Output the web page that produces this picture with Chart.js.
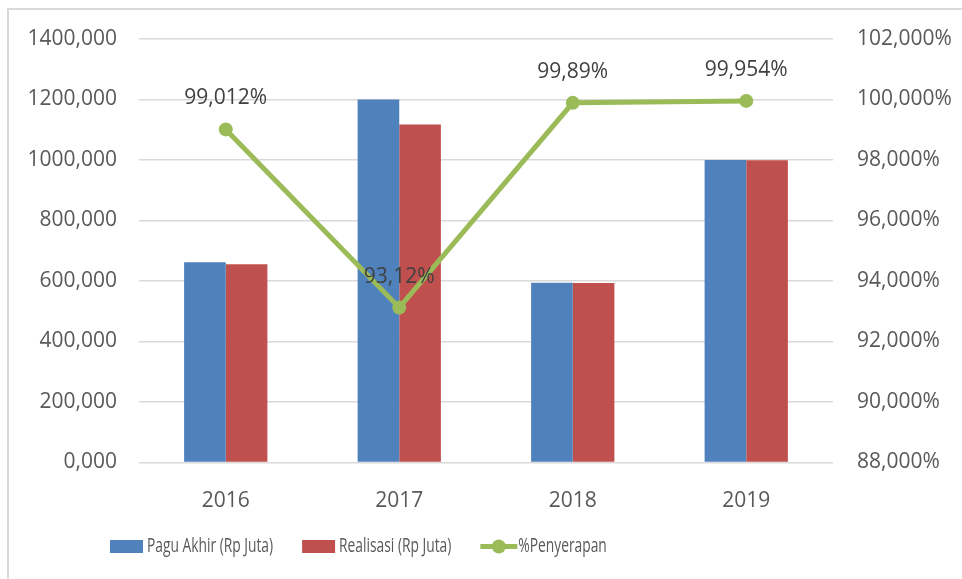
<!DOCTYPE html>
<html>
<head>
<meta charset="utf-8">
<title>Pagu Akhir vs Realisasi</title>
<script src="https://cdn.jsdelivr.net/npm/chart.js@4.4.1/dist/chart.umd.min.js"></script>
<style>
  html, body { margin: 0; padding: 0; background: #fff; }
  #wrap { position: relative; width: 962px; height: 579px; overflow: hidden; }
  #frame { position: absolute; left: 7px; top: 8px; width: 1100px; height: 700px; border: 2px solid #d9d9d9; box-sizing: border-box; }
  #chart { position: absolute; left: 0; top: 0; }
</style>
</head>
<body>
<div id="wrap">
  <div id="frame"></div>
  <canvas id="chart" width="962" height="579"></canvas>
</div>
<script>
// data
const years = ['2016', '2017', '2018', '2019'];
const paguAkhir = [662, 1200, 594, 1000];
const realisasi = [655.5, 1117.4, 593.3, 999.5];
const penyerapan = [99.012, 93.12, 99.89, 99.954];
const penyerapanLabels = ['99,012%', '93,12%', '99,89%', '99,954%'];

const BLUE = '#4f81bd';
const RED = '#c0504d';
const GREEN = '#9bbb59';
const GRID = '#d9d9d9';
const TEXT = '#595959';

Chart.defaults.font.family = "'Open Sans', sans-serif";
Chart.defaults.color = TEXT;

const commaNum = (v, d) => Number(v).toFixed(d).replace('.', ',');

// labels above the line points
const pointLabels = {
  id: 'pointLabels',
  afterDatasetsDraw(chart) {
    const { ctx } = chart;
    const meta = chart.getDatasetMeta(2);
    ctx.save();
    ctx.font = "21px 'Open Sans', sans-serif";
    ctx.fillStyle = '#404040';
    ctx.textAlign = 'center';
    ctx.textBaseline = 'middle';
    meta.data.forEach((pt, i) => {
      ctx.fillText(penyerapanLabels[i], pt.x, pt.y - 31);
    });
    ctx.restore();
  }
};

// legend squeezed horizontally like the original
const squeezedLegend = {
  id: 'squeezedLegend',
  afterDraw(chart) {
    const { ctx } = chart;
    const y = 546.5;
    const squeeze = 0.69;
    let x = 110;
    ctx.save();
    ctx.font = "20px 'Open Sans', sans-serif";
    ctx.textBaseline = 'middle';
    chart.data.datasets.forEach((ds) => {
      if (ds.type === 'line') {
        ctx.strokeStyle = ds.borderColor;
        ctx.lineWidth = 5;
        ctx.beginPath();
        ctx.moveTo(x, y);
        ctx.lineTo(x + 37, y);
        ctx.stroke();
        ctx.fillStyle = ds.borderColor;
        ctx.beginPath();
        ctx.arc(x + 18.5, y, 7, 0, Math.PI * 2);
        ctx.fill();
        x += 38;
      } else {
        ctx.fillStyle = ds.backgroundColor;
        ctx.fillRect(x, y - 6.5, 33, 13);
        x += 37;
      }
      ctx.fillStyle = TEXT;
      ctx.save();
      ctx.translate(x, y);
      ctx.scale(squeeze, 1);
      ctx.fillText(ds.label, 0, 0);
      ctx.restore();
      x += ctx.measureText(ds.label).width * squeeze + 29;
    });
    ctx.restore();
  }
};

new Chart(document.getElementById('chart').getContext('2d'), {
  type: 'bar',
  data: {
    labels: years,
    datasets: [
      {
        label: 'Pagu Akhir (Rp Juta)',
        data: paguAkhir,
        backgroundColor: BLUE,
        yAxisID: 'y',
        order: 1,
      },
      {
        label: 'Realisasi (Rp Juta)',
        data: realisasi,
        backgroundColor: RED,
        yAxisID: 'y',
        order: 1,
      },
      {
        type: 'line',
        label: '%Penyerapan',
        data: penyerapan,
        borderColor: GREEN,
        backgroundColor: GREEN,
        borderWidth: 5,
        pointRadius: 7,
        pointBorderWidth: 0,
        pointBackgroundColor: GREEN,
        tension: 0,
        yAxisID: 'y1',
        order: 0,
      },
    ],
  },
  options: {
    responsive: false,
    animation: false,
    layout: {
      padding: { left: 0, right: 0, top: 39, bottom: 0 },
    },
    datasets: {
      bar: {
        categoryPercentage: 0.48,
        barPercentage: 1,
      },
    },
    scales: {
      x: {
        grid: { display: false },
        border: { display: false },
        ticks: {
          padding: 18,
          font: { size: 21 },
          color: TEXT,
        },
        afterFit: (axis) => { axis.height = 116.5; },
      },
      y: {
        position: 'left',
        min: 0,
        max: 1400,
        grid: { color: GRID, lineWidth: 1.5, drawTicks: false },
        border: { display: false },
        ticks: {
          stepSize: 200,
          padding: 22,
          font: { size: 21 },
          color: TEXT,
          callback: (v) => commaNum(v, 3),
        },
        afterFit: (axis) => { axis.width = 139; },
      },
      y1: {
        position: 'right',
        min: 88,
        max: 102,
        grid: { display: false, drawTicks: false },
        border: { display: false },
        ticks: {
          stepSize: 2,
          padding: 24,
          font: { size: 21 },
          color: TEXT,
          callback: (v) => commaNum(v, 3) + '%',
        },
        afterFit: (axis) => { axis.width = 129; },
      },
    },
    plugins: {
      legend: { display: false },
      tooltip: { enabled: false },
    },
  },
  plugins: [pointLabels, squeezedLegend],
});
</script>
</body>
</html>
